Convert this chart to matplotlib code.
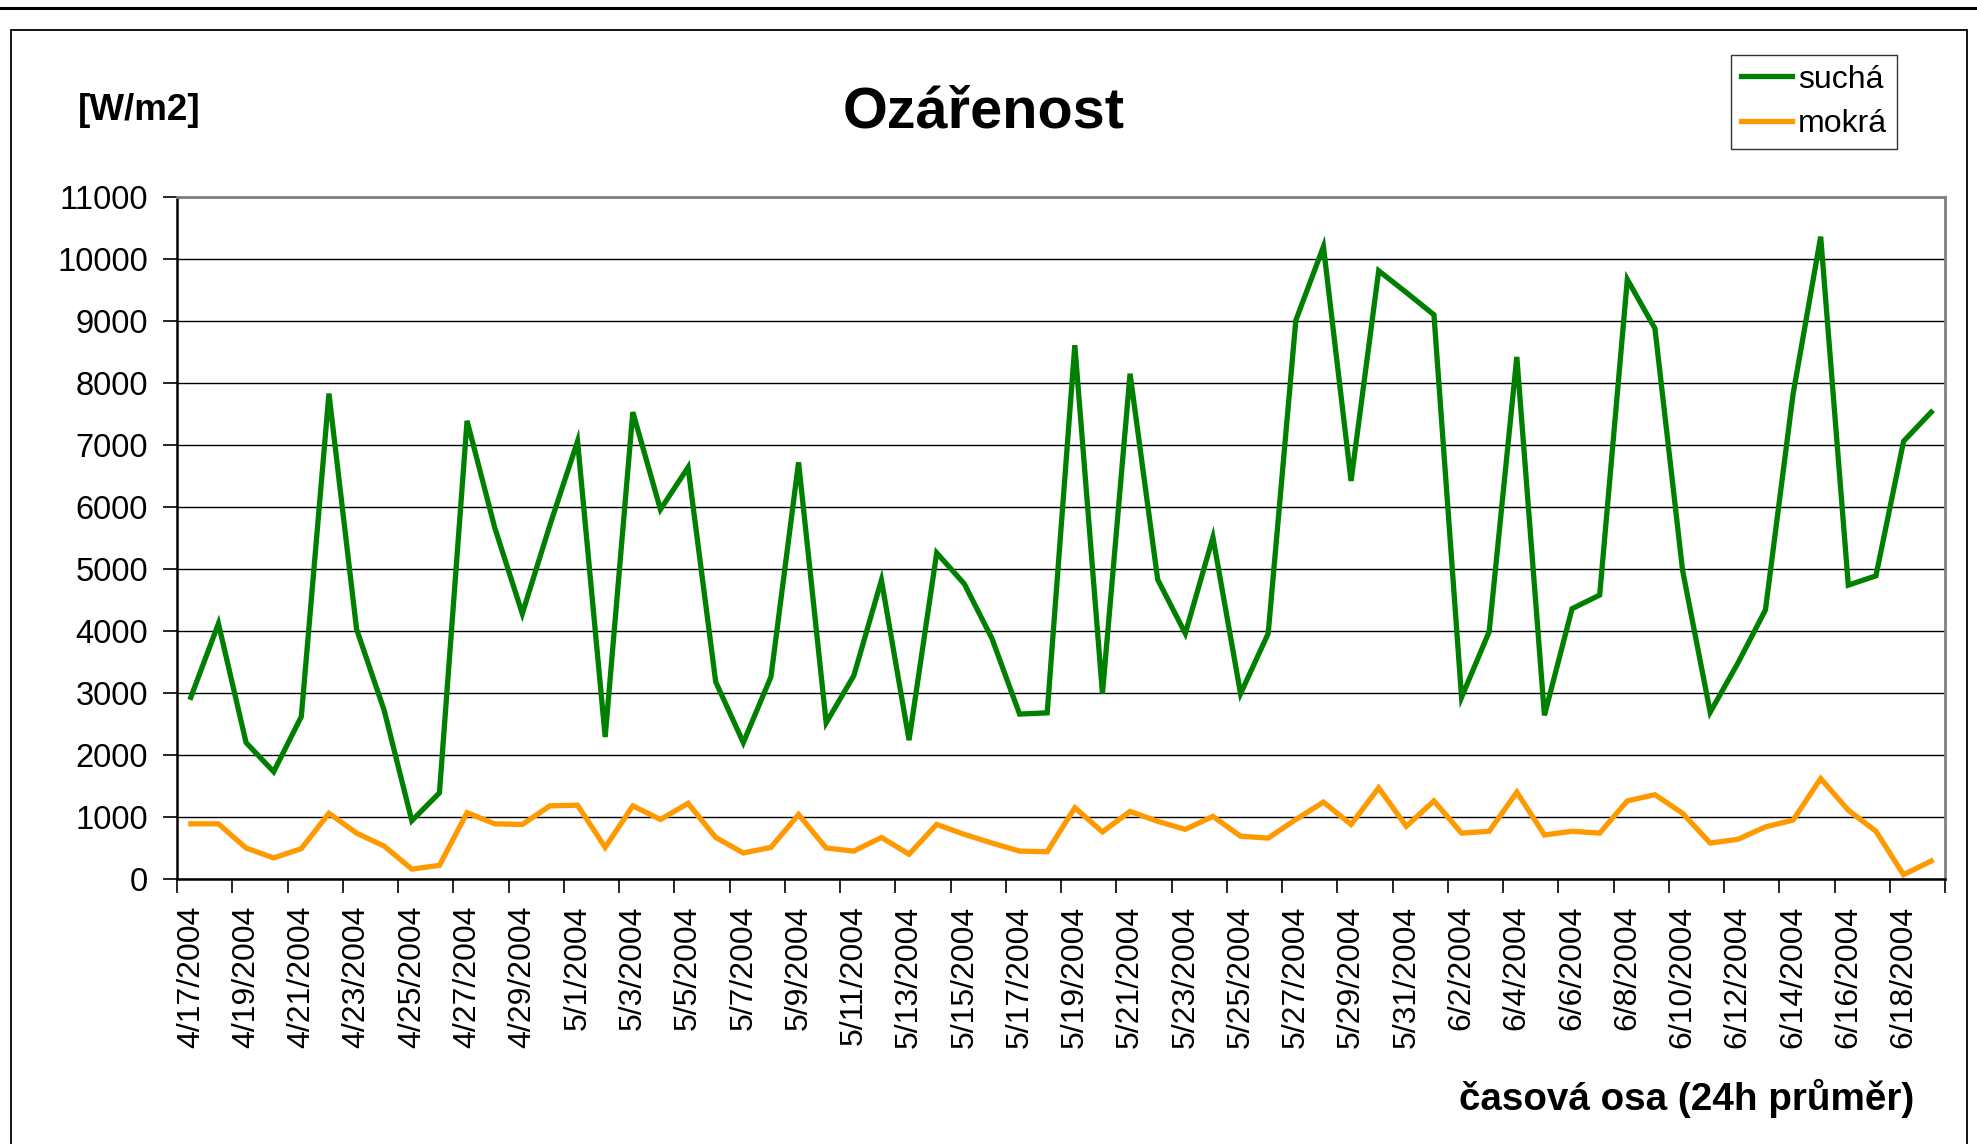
import numpy as np
import matplotlib
matplotlib.use("Agg")
import matplotlib.pyplot as plt
from matplotlib.lines import Line2D
from matplotlib.patches import Rectangle

# daily 24h averages, 4/17/2004 .. 6/19/2004
sucha = [2930, 4120, 2200, 1730, 2620, 7830, 4030, 2720, 940, 1390,
         7390, 5670, 4280, 5710, 7060, 2290, 7530, 5960, 6640, 3180,
         2200, 3260, 6720, 2520, 3280, 4820, 2240, 5260, 4760, 3880,
         2660, 2680, 8610, 2990, 8150, 4830, 3960, 5510, 2990, 3960,
         9010, 10200, 6420, 9810, 9460, 9100, 2930, 3990, 8420, 2640,
         4360, 4580, 9670, 8880, 4980, 2690, 3480, 4340, 7820, 10360,
         4740, 4890, 7060, 7530]
mokra = [890, 890, 500, 340, 490, 1060, 740, 530, 160, 220,
         1070, 890, 880, 1180, 1190, 510, 1180, 960, 1220, 670,
         420, 510, 1040, 500, 450, 670, 400, 880, 720, 580,
         450, 440, 1150, 760, 1090, 930, 800, 1010, 690, 660,
         960, 1240, 880, 1470, 850, 1260, 740, 770, 1400, 710,
         770, 740, 1260, 1360, 1060, 580, 640, 840, 950, 1620,
         1110, 770, 70, 290]
date_labels = ["4/17/2004", "4/19/2004", "4/21/2004", "4/23/2004", "4/25/2004",
               "4/27/2004", "4/29/2004", "5/1/2004", "5/3/2004", "5/5/2004",
               "5/7/2004", "5/9/2004", "5/11/2004", "5/13/2004", "5/15/2004",
               "5/17/2004", "5/19/2004", "5/21/2004", "5/23/2004", "5/25/2004",
               "5/27/2004", "5/29/2004", "5/31/2004", "6/2/2004", "6/4/2004",
               "6/6/2004", "6/8/2004", "6/10/2004", "6/12/2004", "6/14/2004",
               "6/16/2004", "6/18/2004"]

plt.rcParams['font.family'] = ['Liberation Sans', 'DejaVu Sans']

W, H = 1977, 1144
fig = plt.figure(figsize=(W / 100, H / 100), dpi=100)

# outer frame like the excel sheet
fig.add_artist(Line2D([0, 1], [1 - 8 / H, 1 - 8 / H], color='black', lw=2.2,
                      transform=fig.transFigure))
fig.add_artist(Rectangle((11 / W, -0.05), (1967 - 11) / W, 1.05 - 30 / H,
                         fill=False, edgecolor='black', lw=1.3,
                         transform=fig.transFigure))

ax = fig.add_axes([177 / W, (H - 879) / H, (1945 - 177) / W, (879 - 197) / H])

x = np.arange(len(sucha))
ax.plot(x, sucha, color='#008000', lw=3.8, label='suchá', solid_joinstyle='miter')
ax.plot(x, mokra, color='#FF9900', lw=3.8, label='mokrá', solid_joinstyle='miter')

ax.set_xlim(-0.5, len(sucha) - 0.5)
ax.set_ylim(0, 11000)
ax.set_yticks(np.arange(0, 11001, 1000))
ax.yaxis.grid(True, color='black', lw=1.0)
ax.set_axisbelow(True)

# ticks between categories, labels on every second day
ax.set_xticks(np.arange(-0.5, len(sucha), 2))
ax.set_xticklabels([])
ax.set_xticks(np.arange(0, len(sucha), 2), minor=True)
ax.set_xticklabels(date_labels, minor=True, rotation=90, fontsize=23)
ax.tick_params(axis='x', which='major', length=10, width=1.2, direction='out')
ax.tick_params(axis='x', which='minor', length=0, pad=19)
ax.tick_params(axis='y', length=10, width=1.2, direction='out', pad=11,
               labelsize=23.5)

for s in ['top', 'right']:
    ax.spines[s].set_color('#808080')
    ax.spines[s].set_linewidth(2)
for s in ['left', 'bottom']:
    ax.spines[s].set_color('black')
    ax.spines[s].set_linewidth(1.8)

fig.text(984 / W, 1 - 127 / H, 'Ozářenost', fontsize=41.5, fontweight='bold',
         ha='center', va='baseline')
fig.text(78 / W, 1 - 120 / H, '[W/m2]', fontsize=26.5, fontweight='bold',
         ha='left', va='baseline')
fig.text(1914 / W, 1 - 1098 / H, 'časová osa (24h průměr)', fontsize=27.8,
         fontweight='bold', ha='right', va='center')

leg = fig.legend(loc='upper left', bbox_to_anchor=(1731 / W, 1 - 55 / H),
                 bbox_transform=fig.transFigure, fontsize=23, frameon=True,
                 fancybox=False, edgecolor='black', handlelength=1.6,
                 handletextpad=0.2, borderpad=0.3, labelspacing=0.45,
                 borderaxespad=0)
leg.get_frame().set_linewidth(1.0)

fig.savefig('out.png', dpi=100)
